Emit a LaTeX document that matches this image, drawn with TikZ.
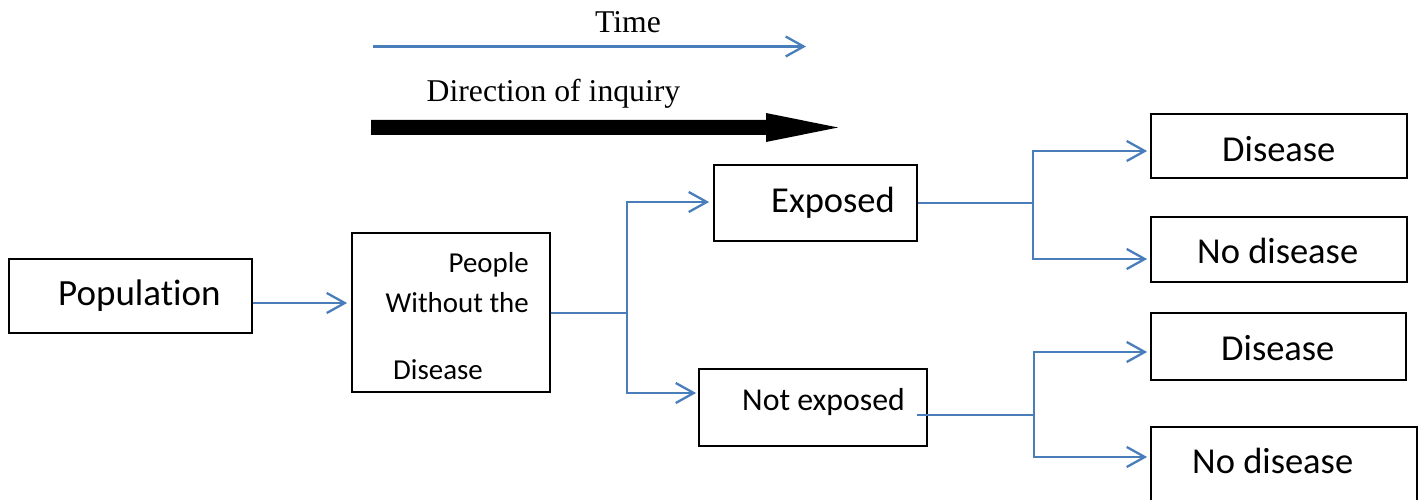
\documentclass[tikz,border=0pt]{standalone}
\usepackage{fontspec}
\setmainfont{Carlito}[Ligatures=NoCommon]
\newfontfamily\serifTNR{Liberation Serif}
\usetikzlibrary{arrows.meta}
\definecolor{lineblue}{HTML}{4A7EBB}
\begin{document}
\begin{tikzpicture}[x=1pt,y=-1pt,
  box/.style={draw=black,line width=1.8pt,rectangle,inner sep=0pt},
  wire/.style={draw=lineblue,line width=2.3pt},
  conn/.style={wire,-{Straight Barb[length=18pt,width=20pt,line width=2.3pt]}},
  big/.style={font=\fontsize{36.5}{42}\selectfont,inner sep=0pt},
  mid/.style={font=\fontsize{31.8}{37}\selectfont,inner sep=0pt},
  small/.style={font=\fontsize{28.9}{34}\selectfont,inner sep=0pt},
  serifT/.style={font=\serifTNR\fontsize{31.7}{36}\selectfont,inner sep=0pt}
]
\useasboundingbox (0,0) rectangle (1424,500);

% header
\node[serifT,anchor=base] (time) at (628,33) {Time};
\coordinate (t0) at (373,46.5);
\coordinate (t1) at (806,46.5);
\draw[conn] (t0) -- (t1);
\node[serifT,anchor=base west] (dir) at (426.5,102) {Direction of inquiry};
\fill[black] (371,120) -- (766,120) -- (766,113) -- (838,127.5) -- (766,142) -- (766,135) -- (371,135) -- cycle;

% boxes
\node[box,minimum width=243pt,minimum height=74pt] (pop) at (130.5,296) {};
\node[box,minimum width=198pt,minimum height=159pt] (people) at (451,312.5) {};
\node[box,minimum width=203pt,minimum height=76pt] (exp) at (815.5,203) {};
\node[box,minimum width=228pt,minimum height=77pt] (nexp) at (813,407.5) {};
\node[box,minimum width=256pt,minimum height=64pt] (d1) at (1279,146) {};
\node[box,minimum width=256pt,minimum height=65pt] (nd1) at (1279,249.5) {};
\node[box,minimum width=255pt,minimum height=67pt] (d2) at (1278.5,346.5) {};
\node[box,minimum width=266pt,minimum height=78pt] (nd2) at (1284,466) {};

% texts
\node[big,anchor=base west,font=\fontsize{37}{43}\selectfont] (popT) at (58,305) {Population};
\node[small,anchor=base east] (peoT1) at (529,272) {People};
\node[small,anchor=base east] (peoT2) at (529,312) {Without the};
\node[small,anchor=base west] (peoT3) at (393,379) {Disease};
\node[big,anchor=base west] (expT) at (771,212) {Exposed};
\node[mid,anchor=base west] (nexpT) at (742,410) {Not exposed};
\node[big,anchor=base west] (d1T) at (1222,161) {Disease};
\node[big,anchor=base west] (nd1T) at (1197,263) {No disease};
\node[big,anchor=base west] (d2T) at (1221,360) {Disease};
\node[big,anchor=base west] (nd2T) at (1192,473) {No disease};

% connectors
\draw[conn,shorten >=4pt] (pop.east |- 0,303) -- (people.west |- 0,303);
\coordinate (j1) at (627,313);
\draw[wire] (people.east |- j1) -- (j1);
\draw[conn,shorten >=4pt] (j1) |- (exp.west |- 0,202);
\draw[conn,shorten >=2pt] (j1) |- (nexp.west |- 0,393);
\coordinate (j2) at (1033,203);
\draw[wire] (exp.east |- j2) -- (j2);
\draw[conn,shorten >=3pt] (j2) |- (d1.west |- 0,151);
\draw[conn,shorten >=3pt] (j2) |- (nd1.west |- 0,259);
\coordinate (j3) at (1034,415);
\draw[wire] (nexp.east |- j3) ++(-11,0) -- (j3);
\draw[conn,shorten >=3pt] (j3) |- (d2.west |- 0,352);
\draw[conn,shorten >=3pt] (j3) |- (nd2.west |- 0,457);
\end{tikzpicture}
\end{document}
